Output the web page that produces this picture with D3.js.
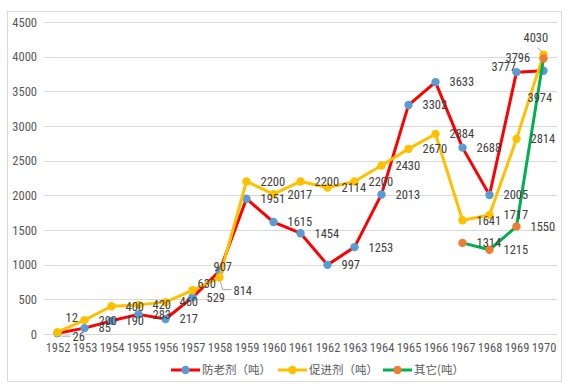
<!DOCTYPE html>
<html><head><meta charset="utf-8">
<script src="https://cdn.jsdelivr.net/npm/d3@7/dist/d3.min.js"></script>
<style>
html,body{margin:0;padding:0;background:#fff;}
svg{display:block;font-family:"Noto Sans CJK SC","Noto Sans",sans-serif;}
.num{font-family:"Liberation Sans Narrow","Arial Narrow","Roboto Condensed","Noto Sans CJK SC",sans-serif;}
</style></head>
<body><svg id="chart" width="566" height="388"></svg>
<script>
// ---- data ----
const years = [1952,1953,1954,1955,1956,1957,1958,1959,1960,1961,1962,1963,1964,1965,1966,1967,1968,1969,1970];
const fanglaoji = [12,85,190,283,217,529,907,1951,1615,1454,997,1253,2013,3302,3633,2688,2005,3777,3796];
const cujinji   = [26,200,400,420,460,630,814,2200,2017,2200,2114,2200,2430,2670,2884,1641,1717,2814,4030];
const qita      = [null,null,null,null,null,null,null,null,null,null,null,null,null,null,null,1314,1215,1550,3974];
const yTicks = [0,500,1000,1500,2000,2500,3000,3500,4000,4500];
const seriesNames = ["防老剂（吨）","促进剂（吨）","其它(吨）"];

// label nudges (moved labels), keyed by year: [dx of left edge from point, dy]
const nudgeF = {1952:[8,-16],1958:[-6,-4],1969:[-25,-6],1970:[-38,-13]};
const nudgeC = {1952:[15,4,true],1957:[5,-7],1958:[14,13,true],1970:[-20,-17,true]};
const nudgeQ = {1970:[-16,39]};

const series = [
  {name:seriesNames[0], values:fanglaoji, line:"#FF0000", dot:"#5B9BD5", nudge:nudgeF},
  {name:seriesNames[1], values:cujinji,   line:"#FFC000", dot:"#FFC000", nudge:nudgeC},
  {name:seriesNames[2], values:qita,      line:"#00B050", dot:"#ED7D31", nudge:nudgeQ}
];

const svg = d3.select("#chart");
// outer border
svg.append("rect").attr("x",7.5).attr("y",11.5).attr("width",554).attr("height",370)
  .attr("fill","#fff").attr("stroke","#D9D9D9");

const x = d3.scalePoint().domain(years).range([44,557]).padding(0.5);
const y = d3.scaleLinear().domain([0,4500]).range([334,22]);

// gridlines
svg.append("g").selectAll("line").data(yTicks).join("line")
  .attr("x1",44).attr("x2",557)
  .attr("y1",d=>Math.round(y(d))+0.5).attr("y2",d=>Math.round(y(d))+0.5)
  .attr("stroke","#D9D9D9").attr("stroke-width",1);

// y axis
const yAxis = svg.append("g").attr("transform","translate(44,0)")
  .call(d3.axisLeft(y).tickValues(yTicks).tickSize(0).tickPadding(7).tickFormat(d3.format("d")));
yAxis.select(".domain").remove();
yAxis.selectAll("text").attr("class","num").attr("fill","#595959").style("font-size","12.5px");

// x axis
const xAxis = svg.append("g").attr("transform","translate(0,334)")
  .call(d3.axisBottom(x).tickSize(0).tickPadding(9).tickFormat(d=>String(d)));
xAxis.select(".domain").remove();
xAxis.selectAll("text").attr("class","num").attr("fill","#595959").style("font-size","12.5px");

// series
series.forEach(s=>{
  const pts = years.map((yr,i)=>({yr, v:s.values[i]})).filter(p=>p.v!=null);
  const line = d3.line().x(p=>x(p.yr)).y(p=>y(p.v));
  svg.append("path").datum(pts).attr("d",line).attr("fill","none")
    .attr("stroke",s.line).attr("stroke-width",3).attr("stroke-linejoin","round").attr("stroke-linecap","round");
  svg.append("g").selectAll("circle").data(pts).join("circle")
    .attr("cx",p=>x(p.yr)).attr("cy",p=>y(p.v)).attr("r",4.2).attr("fill",s.dot);
});

// data labels
series.forEach(s=>{
  const pts = years.map((yr,i)=>({yr, v:s.values[i]})).filter(p=>p.v!=null);
  const g = svg.append("g");
  pts.forEach(p=>{
    const px = x(p.yr), py = y(p.v);
    const n = s.nudge[p.yr] || [14,0];
    const lx = px + n[0], ly = py + n[1];
    if(n[2]){
      if(p.yr===1952){
        g.append("line").attr("x1",px+4).attr("y1",ly).attr("x2",lx-2).attr("y2",ly).attr("stroke","#A6A6A6");
      } else if(p.yr===1958){
        g.append("polyline").attr("points",`${px+1},${py+4} ${px+3},${ly-1} ${lx-2},${ly-1}`)
          .attr("fill","none").attr("stroke","#A6A6A6");
      } else {
        g.append("line").attr("x1",lx+14).attr("y1",ly+10).attr("x2",px-2).attr("y2",py-3).attr("stroke","#A6A6A6");
      }
    }
    g.append("text").attr("class","num").attr("x",lx).attr("y",ly).attr("dy","0.35em")
      .attr("fill","#404040").style("font-size","12.5px").text(p.v);
  });
});

// legend
const legX = [171,278,383];
const lg = svg.append("g");
series.forEach((s,i)=>{
  const lx = legX[i], ly = 370;
  lg.append("line").attr("x1",lx).attr("x2",lx+29).attr("y1",ly).attr("y2",ly)
    .attr("stroke",s.line).attr("stroke-width",3);
  lg.append("circle").attr("cx",lx+14.5).attr("cy",ly).attr("r",4.2).attr("fill",s.dot);
  lg.append("text").attr("x",lx+31).attr("y",ly).attr("dy","0.35em")
    .attr("fill","#595959").style("font-size","11.5px").text(s.name);
});
</script></body></html>
